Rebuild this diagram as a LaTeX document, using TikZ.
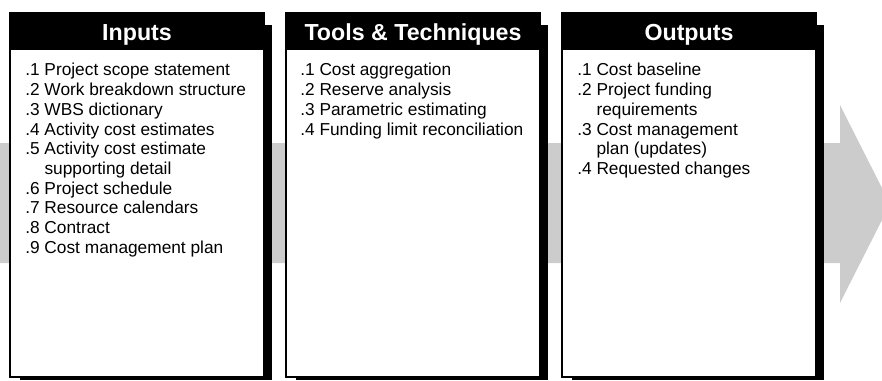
\documentclass[tikz,border=0pt]{standalone}
\usepackage{fontspec}
\setmainfont{Liberation Sans}
\begin{document}
\begin{tikzpicture}[
        x=0.025cm, y=-0.025cm,
        item/.style={anchor=base west, inner sep=0pt, font=\fontsize{12.3}{14.2}\selectfont},
        head/.style={anchor=base, inner sep=0pt, text=white, font=\bfseries\fontsize{16.5}{18}\selectfont},
        frame/.style={draw=black, fill=white, line width=1.4pt},
        band/.style={fill=black!20}
    ]
        \useasboundingbox (0,0) rectangle (882,381);
        % Grey process arrow behind the boxes
        \fill[band] (0,143) -- (840,143) -- (840,105) -- (882,188) -- (882,220)
            -- (840,303) -- (840,263) -- (0,263) -- cycle;
        % Boxes with shadow and black header
        \foreach \x/\t/\n in {10/Inputs/in, 286/Tools \& Techniques/tt, 562/Outputs/out} {
            \fill (\x+10,25) rectangle (\x+262,380);
            \draw[frame] (\x,13) rectangle (\x+254,377);
            \fill (\x,13) rectangle (\x+254,50);
            \node[head] (h\n) at (\x+127,41) {\t};
        }
        % Inputs
        \foreach \t [count=\i] in {.1 Project scope statement, .2 Work breakdown structure,
            .3 WBS dictionary, .4 Activity cost estimates, .5 Activity cost estimate,
            \hphantom{.5 }supporting detail, .6 Project schedule, .7 Resource calendars,
            .8 Contract, .9 Cost management plan} {
            \node[item] (in\i) at (25, 56.3+19.7*\i) {\t};
        }
        % Tools & Techniques
        \foreach \t [count=\i] in {.1 Cost aggregation, .2 Reserve analysis,
            .3 Parametric estimating, .4 Funding limit reconciliation} {
            \node[item] (tt\i) at (300, 56.3+19.7*\i) {\t};
        }
        % Outputs
        \foreach \t [count=\i] in {.1 Cost baseline, .2 Project funding,
            \hphantom{.2 }requirements, .3 Cost management, \hphantom{.3 }plan (updates),
            .4 Requested changes} {
            \node[item] (out\i) at (577, 56.3+19.7*\i) {\t};
        }
    \end{tikzpicture}
\end{document}
